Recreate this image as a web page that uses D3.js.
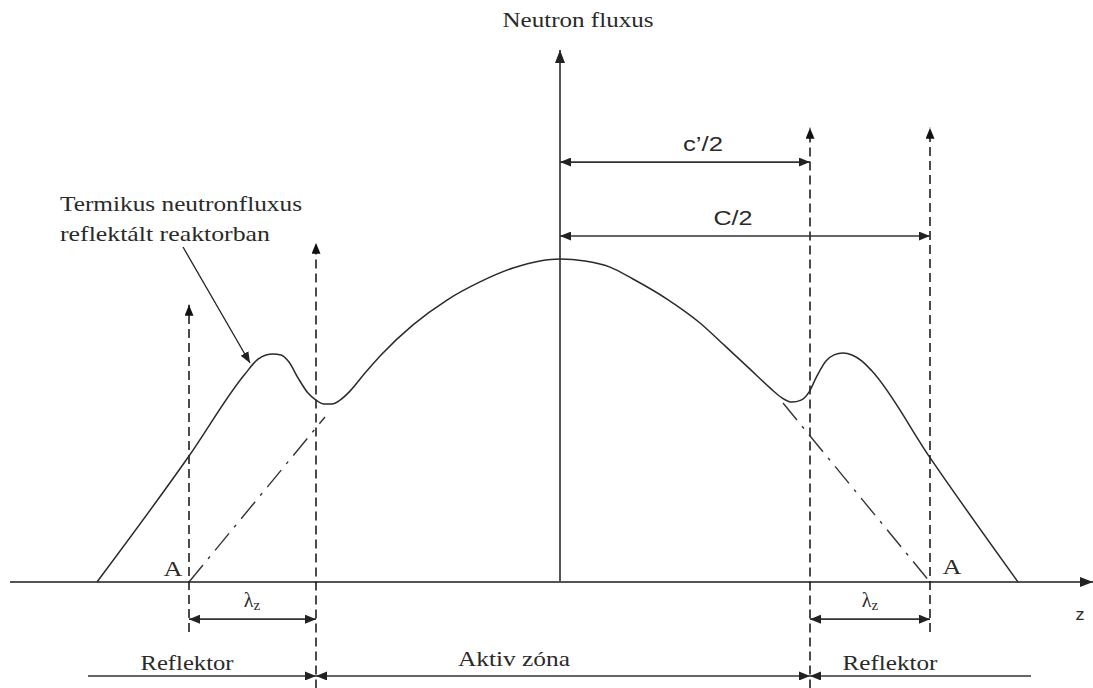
<!DOCTYPE html>
<html>
<head>
<meta charset="utf-8">
<script src="https://cdn.jsdelivr.net/npm/d3@7"></script>
<style>
  body { margin: 0; background: #fff; }
  svg { display: block; }
</style>
</head>
<body>
<div id="chart"></div>
<script>
// z position (arbitrary units, 0 = reactor centre) and flux (% of central peak)
const fluxZ = [-46.3, -37.1, -31.5, -30.2, -29.4, -28.7, -27.9, -27.1, -26.2, -25.2, -24.4, -23.6, -22.8, -22.0, -21.0, -19.5, -17.8, -14.7, -11.3, -8.0, -4.7, -2.0, 0,
               2.5, 5.0, 7.3, 10.7, 14.0, 16.5, 19.0, 21.0, 22.2, 23.2, 24.1, 24.9, 25.7, 26.6, 27.4, 28.3, 29.2, 30.2, 31.2, 37.0, 45.8];
const fluxValues = [0, 39.0, 64.4, 69.0, 70.3, 70.6, 70.3, 68.1, 63.2, 58.5, 56.3, 55.1, 55.1, 56.3, 59.1, 64.7, 70.6, 79.6, 87.3, 92.9, 97.2, 99.4, 100,
                    99.4, 97.5, 93.8, 87.6, 80.2, 73.1, 65.9, 60.1, 57.0, 55.7, 56.3, 58.8, 63.8, 68.4, 70.3, 70.9, 70.3, 68.4, 65.3, 38.5, 0];

// extrapolated (bare core) flux, dash-dot, reaching zero at A
const extrapLeft = [[-37.1, 0], [-23.5, 51.1]];
const extrapRight = [[22.3, 55.4], [37.0, 0]];

// boundaries: extrapolation points A and core / reflector boundaries
const zA = [-37.1, 37.0];
const zCore = [-24.4, 25.0];
const zReflectorEnd = [-47.2, 47.1];

// vertical dashed markers: z, top flux, bottom flux
const markers = [
  { z: zA[0], top: 85.8, bottom: -15.5 },
  { z: zCore[0], top: 105, bottom: -33 },
  { z: zCore[1], top: 140.6, bottom: -33 },
  { z: zA[1], top: 140.6, bottom: -15.5 }
];

// dimension lines: from, to, level, which ends carry arrows
const dimensions = [
  { z0: 0, z1: zCore[1], f: 130, start: true, end: true },
  { z0: 0, z1: zA[1], f: 107.1, start: true, end: true },
  { z0: zA[0], z1: zCore[0], f: -11.5, start: true, end: true },
  { z0: zCore[1], z1: zA[1], f: -11.5, start: true, end: true },
  { z0: zReflectorEnd[0], z1: zCore[0], f: -29.1, start: false, end: true },
  { z0: zCore[0], z1: zCore[1], f: -29.1, start: true, end: true },
  { z0: zCore[1], z1: zReflectorEnd[1], f: -29.1, start: true, end: false }
];

const labels = [
  { text: 'Neutron fluxus', z: 1.8, f: 171.8, serif: true, size: 22, w: 151 },
  { text: 'Termikus neutronfluxus', z: -50, f: 114.9, serif: true, size: 22, w: 242, anchor: 'start' },
  { text: 'reflektált reaktorban', z: -50, f: 105.6, serif: true, size: 22, w: 210, anchor: 'start' },
  { text: 'c’/2', z: 14.3, f: 133.4, serif: false, size: 20, w: 40 },
  { text: 'C/2', z: 17.3, f: 110.5, serif: false, size: 20, w: 39 },
  { text: 'A', z: -38.7, f: 1.9, serif: true, size: 21, w: 19 },
  { text: 'A', z: 39.2, f: 2.5, serif: true, size: 21, w: 19 },
  { text: 'z', z: 52.0, f: -11.8, serif: false, size: 17, w: 9 },
  { text: 'Reflektor', z: -37.3, f: -27.2, serif: true, size: 22, w: 93 },
  { text: 'Aktiv zóna', z: -4.6, f: -26.0, serif: true, size: 22, w: 112 },
  { text: 'Reflektor', z: 33.0, f: -27.2, serif: true, size: 22, w: 95 }
];
const lambdaLabels = [-30.8, 31.0];

const SERIF = '"Liberation Serif", "DejaVu Serif", "Times New Roman", serif';
const SANS = '"Liberation Sans", Arial, sans-serif';

const width = 1093, height = 688;

const x = d3.scaleLinear().domain([-55, 53]).range([10, 1090]);
const y = d3.scaleLinear().domain([0, 100]).range([582, 259]);

const svg = d3.select('#chart').append('svg')
    .attr('width', width)
    .attr('height', height)
    .attr('viewBox', '0 0 ' + width + ' ' + height);

const defs = svg.append('defs');
function marker(id, color, len, half) {
    defs.append('marker')
        .attr('id', id)
        .attr('viewBox', '0 0 ' + len + ' ' + (2 * half))
        .attr('refX', len)
        .attr('refY', half)
        .attr('markerUnits', 'userSpaceOnUse')
        .attr('markerWidth', len)
        .attr('markerHeight', 2 * half)
        .attr('orient', 'auto-start-reverse')
      .append('path')
        .attr('d', 'M0,0L' + len + ',' + half + 'L0,' + (2 * half) + 'Z')
        .attr('fill', color);
}
marker('arrowAxis', '#222', 13, 5);
marker('arrowDim', '#222', 11, 4.5);
marker('arrowMark', '#111', 11, 4.5);

// axes
svg.append('line')
    .attr('x1', x(-55)).attr('x2', x(53.3))
    .attr('y1', y(0)).attr('y2', y(0))
    .attr('stroke', '#555').attr('stroke-width', 2)
    .attr('marker-end', 'url(#arrowAxis)');
svg.append('line')
    .attr('x1', x(0)).attr('x2', x(0))
    .attr('y1', y(0)).attr('y2', y(164.7))
    .attr('stroke', '#555').attr('stroke-width', 2)
    .attr('marker-end', 'url(#arrowAxis)');

// dashed vertical markers
svg.selectAll('.marker')
    .data(markers)
  .enter().append('line')
    .classed('marker', true)
    .attr('x1', d => x(d.z)).attr('x2', d => x(d.z))
    .attr('y1', d => y(d.bottom)).attr('y2', d => y(d.top))
    .attr('stroke', '#111').attr('stroke-width', 1.5)
    .attr('stroke-dasharray', '9,5')
    .attr('marker-end', 'url(#arrowMark)');

// extrapolated flux (dash-dot)
const straight = d3.line().x(d => x(d[0])).y(d => y(d[1]));
[extrapLeft, extrapRight].forEach(seg => {
    svg.append('path')
        .attr('d', straight(seg))
        .attr('fill', 'none')
        .attr('stroke', '#333').attr('stroke-width', 1.4)
        .attr('stroke-dasharray', '22,8,3,8');
});

// flux curve
const fluxLine = d3.line()
    .x((d, i) => x(fluxZ[i]))
    .y(d => y(d))
    .curve(d3.curveMonotoneX);
svg.append('path')
    .attr('d', fluxLine(fluxValues))
    .attr('fill', 'none')
    .attr('stroke', '#2a2a2a')
    .attr('stroke-width', 1.5);

// dimension lines
svg.selectAll('.dim')
    .data(dimensions)
  .enter().append('line')
    .classed('dim', true)
    .attr('x1', d => x(d.z0)).attr('x2', d => x(d.z1))
    .attr('y1', d => y(d.f)).attr('y2', d => y(d.f))
    .attr('stroke', '#333').attr('stroke-width', 1.6)
    .attr('marker-start', d => d.start ? 'url(#arrowDim)' : null)
    .attr('marker-end', d => d.end ? 'url(#arrowDim)' : null);

// annotation arrow
svg.append('line')
    .attr('x1', x(-37.7)).attr('y1', y(103.7))
    .attr('x2', x(-31.0)).attr('y2', y(67.8))
    .attr('stroke', '#222').attr('stroke-width', 1.3)
    .attr('marker-end', 'url(#arrowDim)');

// labels
svg.selectAll('.label')
    .data(labels)
  .enter().append('text')
    .classed('label', true)
    .attr('x', d => x(d.z))
    .attr('y', d => y(d.f))
    .attr('text-anchor', d => d.anchor || 'middle')
    .attr('font-family', d => d.serif ? SERIF : SANS)
    .attr('font-size', d => d.size + 'px')
    .attr('fill', '#2a2a2a')
    .attr('textLength', d => d.w)
    .attr('lengthAdjust', 'spacingAndGlyphs')
    .text(d => d.text);

const lam = svg.selectAll('.lambda')
    .data(lambdaLabels)
  .enter().append('text')
    .classed('lambda', true)
    .attr('x', d => x(d))
    .attr('y', y(-7.7))
    .attr('text-anchor', 'middle')
    .attr('font-family', SERIF)
    .attr('font-size', '20px')
    .attr('fill', '#2a2a2a');
lam.append('tspan').text('λ');
lam.append('tspan').attr('font-size', '15px').attr('dy', 3).text('z');
</script>
</body>
</html>
